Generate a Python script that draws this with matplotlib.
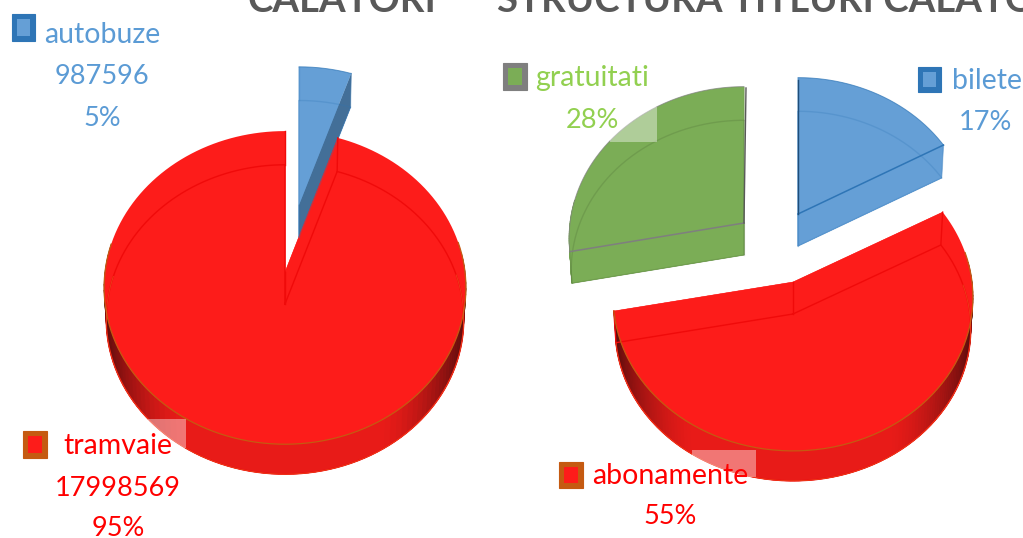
#!/usr/bin/env python3

import numpy as np
import matplotlib
matplotlib.use('Agg')
import matplotlib.pyplot as plt

plt.rcParams['font.family'] = ['Lato', 'DejaVu Sans']

# values
left_names = ['autobuze', 'tramvaie']
left_values = [987596, 17998569]
left_labels = ['5%', '95%']

right_names = ['bilete', 'abonamente', 'gratuitati']
right_values = [17, 55, 28]
right_labels = ['17%', '55%', '28%']

titles = ['CALATORI', 'STRUCTURA TITLURI CALATORI']

BLUE = '#659fd6'
RED = '#fd1c1a'
GREEN = '#7bad56'

PERSP, DEPTH, SHRINK = 0.1, 32, 0.988


def project(apex, rx, ry, theta, drop=0, scale=1.0):
    s, c = np.sin(theta), np.cos(theta)
    w = 1 + PERSP * c
    return apex[0] + scale * rx * s / w, apex[1] - scale * ry * c / w + drop


def shade(s):
    # side wall goes dark towards the far left and right
    t = np.clip((abs(s) - 0.5) / 0.5, 0, 1) ** 1.5
    dark = np.array([0x50, 0x0b, 0x0b])
    lit = np.array([0xe8, 0x1b, 0x18])
    return (lit + (dark - lit) * t) / 255


def draw_slice(ax, start, frac, apex, rx, ry, color, cut_color=None, ghost='#00000018', edge=None):
    t = np.linspace(start, start + frac, 160) * 2 * np.pi
    xt, yt = project(apex, rx, ry, t)
    xb, yb = project(apex, rx, ry, t, DEPTH, SHRINK)
    ax0, ay0 = apex[0], apex[1]
    ay1 = ay0 + DEPTH

    ax.fill(np.r_[ax0, xb], np.r_[ay1, yb], color=color, lw=0.5, zorder=2)
    ax.fill([ax0, xt[0], xb[0], ax0], [ay0, yt[0], yb[0], ay1], color=color, lw=0.3, zorder=2)
    ax.fill([ax0, xt[-1], xb[-1], ax0], [ay0, yt[-1], yb[-1], ay1], color=cut_color or color, lw=0.3, zorder=2)
    for i in range(len(t) - 1):
        if np.cos(t[i]) > 0.15:
            continue
        wc = shade(np.sin(t[i])) if color == RED else color
        ax.fill([xt[i], xt[i + 1], xb[i + 1], xb[i]], [yt[i], yt[i + 1], yb[i + 1], yb[i]], color=wc, lw=0.5, zorder=2)
    ax.fill(np.r_[ax0, xt], np.r_[ay0, yt], color=color, lw=0, zorder=3)

    # bottom face showing through the top
    ax.plot(np.r_[ax0, xb, ax0], np.r_[ay1, yb, ay1], color=ghost, lw=1, zorder=4)
    ax.plot([xt[0], xb[0]], [yt[0], yb[0]], color=ghost, lw=1, zorder=4)
    ax.plot([ax0, ax0], [ay0, ay1], color=ghost, lw=1, zorder=4)
    ax.plot([xt[-1], xb[-1]], [yt[-1], yb[-1]], color=ghost, lw=1, zorder=4)
    if edge:
        ax.plot(xt, yt, color=edge, lw=0.7, alpha=0.7, zorder=5)
    if color == RED:
        low = np.cos(t) < 0.2
        ax.plot(xt[low], yt[low], color='#c55a11', lw=0.9, zorder=5)
        ax.plot(xb[low], yb[low], color='#e8702a', lw=0.5, alpha=0.6, zorder=5)
    return xt, yt, xb, yb


def key(ax, x0, y0, x1, y1, border, fill):
    ax.add_patch(plt.Rectangle((x0, y0), x1 - x0, y1 - y0, fc=border, ec=border, lw=0.8, zorder=6))
    b = (x1 - x0) * 0.22
    ax.add_patch(plt.Rectangle((x0 + b, y0 + b), x1 - x0 - 2 * b, y1 - y0 - 2 * b, fc=fill, ec='none', zorder=7))


def main():
    fig = plt.figure(figsize=(10.23, 5.38), dpi=100)
    ax = fig.add_axes([0, 0, 1, 1])
    ax.set_xlim(0, 1023)
    ax.set_ylim(538, 0)
    ax.axis('off')

    # left pie
    f = np.array(left_values) / sum(left_values)
    draw_slice(ax, 0, f[0], (299, 205), 178, 152, BLUE, cut_color='#436f98', ghost='#2e75b640', edge='#2e75b6')
    draw_slice(ax, f[0], f[1], (285, 272), 180, 155, RED, ghost='#f00a0a')

    # right pie
    g = np.array(right_values) / sum(right_values)
    xt, yt, xb, yb = draw_slice(ax, 0, g[0], (798, 214), 174, 150, BLUE, ghost='#2e75b640', edge='#2e75b6')
    ax.plot([798, xt[-1]], [214, yt[-1]], color='#2e75b6', lw=1.1, zorder=5)
    ax.plot([798, 798], [80, 214], color='#1f4e79', lw=1, zorder=5)
    draw_slice(ax, g[0], g[1], (793, 282), 179, 152, RED, ghost='#f00a0a')
    xt, yt, xb, yb = draw_slice(ax, g[0] + g[1], g[2], (744, 223), 174, 150, GREEN, ghost='#00000018', edge='#7f7f7f')
    ax.plot([744, xt[0]], [223, yt[0]], color='#7f7f7f', lw=1.1, zorder=5)
    ax.plot([746, 744], [88, 223], color='#595959', lw=1, zorder=5)

    # label backgrounds left over the pies
    for x0, y0, x1, y1 in [(148, 419, 186, 448), (610, 107, 657, 142), (692, 450, 756, 477)]:
        ax.add_patch(plt.Rectangle((x0, y0), x1 - x0, y1 - y0, fc='white', ec='none', alpha=0.4, zorder=6))

    # titles are cut by the top of the picture
    ax.text(342, 12, titles[0], color='#595959', fontsize=27.6, fontweight='bold', ha='center', va='baseline', zorder=9)
    ax.text(497, 12, titles[1], color='#595959', fontsize=27.6, fontweight='bold', ha='left', va='baseline', zorder=9)

    # legend keys and data labels
    key(ax, 12, 14, 35, 41, '#2e75b6', BLUE)
    key(ax, 23, 431, 47, 458, '#c55a11', RED)
    key(ax, 503, 63, 527, 90, '#7f7f7f', GREEN)
    key(ax, 918, 67, 941, 92, '#2e75b6', BLUE)
    key(ax, 559, 462, 583, 488, '#c55a11', RED)

    blue_txt, red_txt, green_txt = '#5b9bd5', '#ff0000', '#92d050'
    words = [
        (102, 35, left_names[0], blue_txt), (118, 446, left_names[1], red_txt),
        (592, 78, right_names[2], green_txt), (987, 81, right_names[0], blue_txt),
        (670, 476, right_names[1], red_txt),
    ]
    numbers = [
        (102, 76, str(left_values[0]), blue_txt), (102, 118, left_labels[0], blue_txt),
        (118, 488, str(left_values[1]), red_txt), (118, 529, left_labels[1], red_txt),
        (592, 120, right_labels[2], green_txt), (985, 122, right_labels[0], blue_txt),
        (670, 517, right_labels[1], red_txt),
    ]
    for x, y, s, c in words:
        ax.text(x, y, s, color=c, fontsize=20.5, ha='center', va='center', zorder=9)
    for x, y, s, c in numbers:
        ax.text(x, y, s, color=c, fontsize=19.5, ha='center', va='center', zorder=9)

    fig.savefig('out.png', dpi=100)


if __name__ == "__main__":
    main()
